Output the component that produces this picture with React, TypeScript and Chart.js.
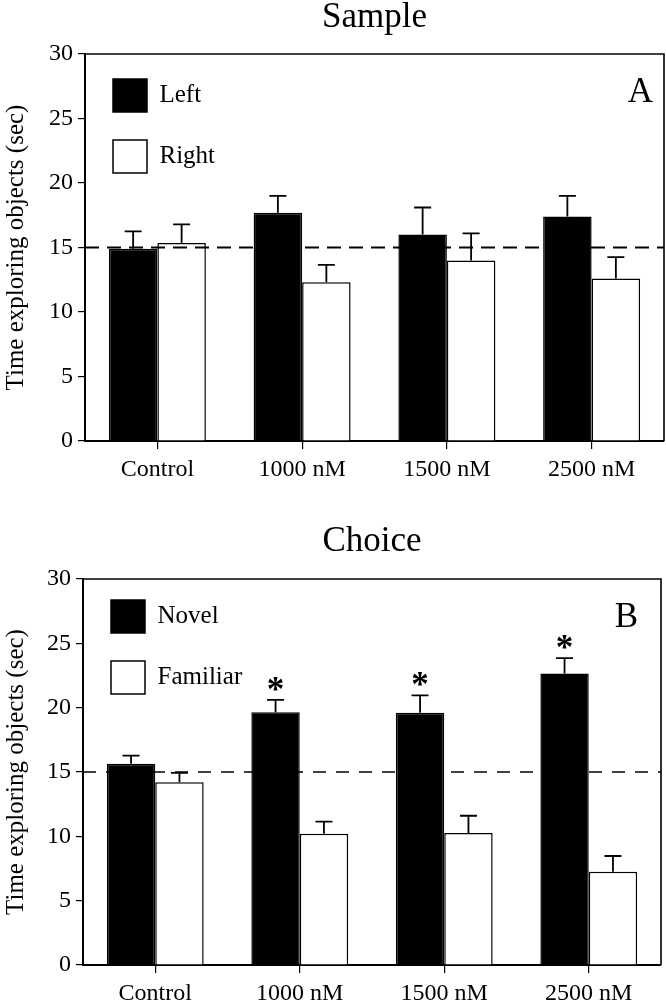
import React, { useEffect, useRef } from 'react';
import { Chart, registerables } from 'chart.js';

Chart.register(...registerables);

// ---------- data ----------
const CATEGORIES = ['Control', '1000 nM', '1500 nM', '2500 nM'];

const SAMPLE_LEFT = [14.9, 17.7, 16.0, 17.4];
const SAMPLE_LEFT_SEM = [1.35, 1.3, 2.1, 1.6];
const SAMPLE_RIGHT = [15.35, 12.3, 14.0, 12.6];
const SAMPLE_RIGHT_SEM = [1.45, 1.35, 2.1, 1.65];

const CHOICE_NOVEL = [15.65, 19.65, 19.6, 22.65];
const CHOICE_NOVEL_SEM = [0.63, 0.95, 1.35, 1.2];
const CHOICE_FAMILIAR = [14.2, 10.2, 10.25, 7.25];
const CHOICE_FAMILIAR_SEM = [0.73, 0.95, 1.35, 1.22];

const CHOICE_NOVEL_SIGNIFICANT = [false, true, true, true];
const NO_MARKS = [false, false, false, false];

const CHANCE_LEVEL = 15;
const Y_TICKS = [0, 5, 10, 15, 20, 25, 30];
const Y_TITLE = 'Time exploring objects (sec)';

const FONT = "'Liberation Serif', 'Times New Roman', serif";

type PanelCfg = {
  title: string;
  letter: string;
  names: [string, string];
  values: [number[], number[]];
  errors: [number[], number[]];
  marks: [boolean[], boolean[]];
  height: number;
  titlePadTop: number;
  titlePadBottom: number;
  yAxisWidth: number;
  xAxisHeight: number;
  rightPad: number;
  letterRight: number;
  legendShift: number;
  dash: number[];
  dashWidth: number;
};

function decorPlugin(cfg: PanelCfg) {
  return {
    id: 'panelDecor',
    afterLayout(chart: any) {
      // keep the legend inside the plot frame
      const lg = chart.legend;
      if (lg) {
        lg.top = chart.chartArea.top + cfg.legendShift;
        lg.bottom = chart.chartArea.bottom;
        lg.left = chart.chartArea.left;
      }
    },
    afterDatasetsDraw(chart: any) {
      const { ctx, chartArea: a, scales } = chart;
      const y = scales.y;
      ctx.save();
      ctx.strokeStyle = '#000';
      ctx.fillStyle = '#000';
      // chance level dashed line
      const yy = y.getPixelForValue(CHANCE_LEVEL);
      ctx.beginPath();
      ctx.setLineDash(cfg.dash);
      ctx.lineWidth = cfg.dashWidth;
      ctx.moveTo(a.left, yy);
      ctx.lineTo(a.right, yy);
      ctx.stroke();
      ctx.setLineDash([]);
      // error bars + significance marks
      cfg.errors.forEach((errs, di) => {
        const meta = chart.getDatasetMeta(di);
        const vals = cfg.values[di];
        meta.data.forEach((bar: any, i: number) => {
          const x = bar.x;
          const y0 = y.getPixelForValue(vals[i]);
          const y1 = y.getPixelForValue(vals[i] + errs[i]);
          ctx.beginPath();
          ctx.lineWidth = 1.8;
          ctx.moveTo(x, y0);
          ctx.lineTo(x, y1);
          ctx.moveTo(x - 8.5, y1);
          ctx.lineTo(x + 8.5, y1);
          ctx.stroke();
          if (cfg.marks[di][i]) {
            ctx.font = `bold 35px ${FONT}`;
            ctx.textAlign = 'center';
            ctx.textBaseline = 'alphabetic';
            ctx.fillText('*', x, y1 + 1);
          }
        });
      });
      // frame top / right
      ctx.lineWidth = 1.6;
      ctx.beginPath();
      ctx.moveTo(a.left, a.top);
      ctx.lineTo(a.right, a.top);
      ctx.lineTo(a.right, a.bottom);
      ctx.stroke();
      // panel letter
      ctx.font = `35px ${FONT}`;
      ctx.textAlign = 'right';
      ctx.textBaseline = 'alphabetic';
      ctx.fillText(cfg.letter, a.right - cfg.letterRight, a.top + 48);
      ctx.restore();
    },
  };
}

function Panel({ cfg, top }: { cfg: PanelCfg; top: number }) {
  const ref = useRef<HTMLCanvasElement | null>(null);
  useEffect(() => {
    if (!ref.current) return;
    const chart = new Chart(ref.current, {
      type: 'bar',
      data: {
        labels: CATEGORIES,
        datasets: [
          {
            label: cfg.names[0],
            data: cfg.values[0],
            backgroundColor: '#000',
            borderColor: '#000',
            borderWidth: 1.5,
            barPercentage: 1,
            categoryPercentage: 0.67,
          },
          {
            label: cfg.names[1],
            data: cfg.values[1],
            backgroundColor: '#fff',
            borderColor: '#000',
            borderWidth: 1.5,
            barPercentage: 1,
            categoryPercentage: 0.67,
          },
        ],
      },
      options: {
        responsive: false,
        animation: false,
        devicePixelRatio: 1,
        layout: { padding: { top: 0, left: 0, right: cfg.rightPad, bottom: 0 } },
        plugins: {
          title: {
            display: true,
            text: cfg.title,
            fullSize: false,
            color: '#000',
            font: { family: FONT, size: 35, weight: 'normal', lineHeight: 1 },
            padding: { top: cfg.titlePadTop, bottom: cfg.titlePadBottom },
          },
          legend: {
            display: true,
            position: 'chartArea',
            align: 'start',
            labels: {
              boxWidth: 34,
              boxHeight: 33,
              padding: 28,
              color: '#000',
              font: { family: FONT, size: 25 },
            },
          },
          tooltip: { enabled: false },
        },
        scales: {
          x: {
            type: 'category',
            offset: true,
            grid: {
              offset: false,
              drawOnChartArea: false,
              drawTicks: true,
              tickLength: 8,
              color: '#000',
              lineWidth: 1.2,
            },
            border: { display: true, color: '#000', width: 2 },
            ticks: {
              color: '#000',
              font: { family: FONT, size: 24 },
              padding: 6,
              maxRotation: 0,
              autoSkip: false,
            },
            afterFit: (s: any) => {
              s.height = cfg.xAxisHeight;
            },
          },
          y: {
            min: 0,
            max: 30,
            afterBuildTicks: (s: any) => {
              s.ticks = Y_TICKS.map((v) => ({ value: v }));
            },
            grid: {
              drawOnChartArea: false,
              drawTicks: true,
              tickLength: 7,
              color: '#000',
              lineWidth: 1.2,
            },
            border: { display: true, color: '#000', width: 2 },
            ticks: {
              color: '#000',
              font: { family: FONT, size: 24 },
              padding: 5,
            },
            title: {
              display: true,
              text: Y_TITLE,
              color: '#000',
              font: { family: FONT, size: 25 },
              padding: { top: 1, bottom: 0 },
            },
            afterFit: (s: any) => {
              s.width = cfg.yAxisWidth;
            },
          },
        },
      },
      plugins: [decorPlugin(cfg)],
    } as any);
    return () => chart.destroy();
  }, [cfg]);
  return (
    <canvas
      ref={ref}
      width={666}
      height={cfg.height}
      style={{ position: 'absolute', left: 0, top, width: 666, height: cfg.height, display: 'block' }}
    />
  );
}

const SAMPLE_PANEL: PanelCfg = {
  title: 'Sample',
  letter: 'A',
  names: ['Left', 'Right'],
  values: [SAMPLE_LEFT, SAMPLE_RIGHT],
  errors: [SAMPLE_LEFT_SEM, SAMPLE_RIGHT_SEM],
  marks: [NO_MARKS, NO_MARKS],
  height: 500,
  titlePadTop: 0,
  titlePadBottom: 19,
  yAxisWidth: 85,
  xAxisHeight: 59,
  rightPad: 2,
  letterRight: 11,
  legendShift: -3,
  dash: [14, 8],
  dashWidth: 2,
};

const CHOICE_PANEL: PanelCfg = {
  title: 'Choice',
  letter: 'B',
  names: ['Novel', 'Familiar'],
  values: [CHOICE_NOVEL, CHOICE_FAMILIAR],
  errors: [CHOICE_NOVEL_SEM, CHOICE_FAMILIAR_SEM],
  marks: [CHOICE_NOVEL_SIGNIFICANT, NO_MARKS],
  height: 508,
  titlePadTop: 24,
  titlePadBottom: 20,
  yAxisWidth: 83,
  xAxisHeight: 43,
  rightPad: 5,
  letterRight: 23,
  legendShift: -7,
  dash: [13, 10],
  dashWidth: 1.3,
};

export default function App() {
  return (
    <div style={{ position: 'absolute', left: 0, top: 0, width: 666, height: 1008, background: '#fff', overflow: 'hidden' }}>
      <Panel cfg={SAMPLE_PANEL} top={0} />
      <Panel cfg={CHOICE_PANEL} top={500} />
    </div>
  );
}
